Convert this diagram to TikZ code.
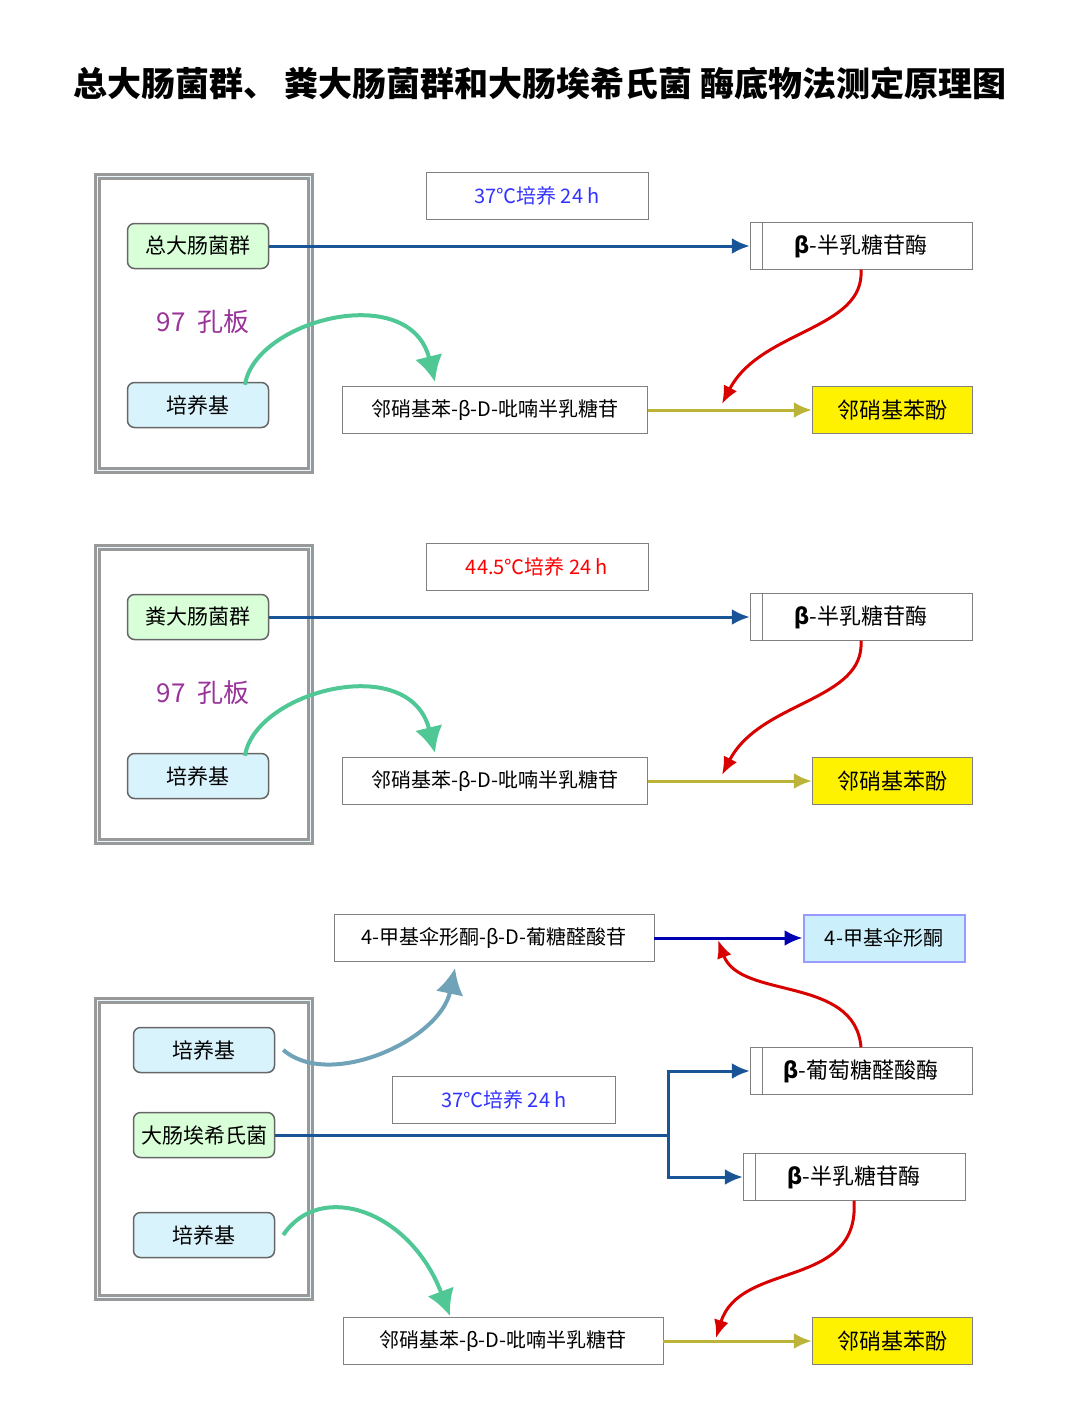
\documentclass[tikz,border=0pt]{standalone}
\usepackage{fontspec}
\setmainfont{Noto Sans CJK SC}
\usepackage{tikz}
\usetikzlibrary{positioning,arrows.meta}
\definecolor{flowblue}{RGB}{25,85,150}
\definecolor{swinggreen}{RGB}{80,200,150}
\tikzset{
  frame/.style={draw=gray!80, line width=3pt, double=cyan!10, double distance=1pt},
  tag/.style={draw=black!60, rounded corners=7pt, line width=1.5pt, minimum width=141pt, minimum height=45pt, font=\fontsize{21}{24}\selectfont},
  grn/.style={tag, fill=green!15},
  blu/.style={tag, fill=cyan!15},
  box/.style={draw=black!50, fill=white, minimum height=47pt, font=\fontsize{20}{24}\selectfont},
  ybox/.style={draw=black!50, fill=yellow, minimum width=160pt, minimum height=47pt, font=\fontsize{22}{24}\selectfont},
  flow/.style={line width=3pt, -{Latex[length=18pt,width=16pt]}},
  turn/.style={line width=3pt, red!85!black, -{Latex[length=18pt,width=15pt]}},
  swing/.style={line width=4pt, -{Latex[length=26pt,width=28pt]}}
}
\begin{document}
\begin{tikzpicture}[x=1pt,y=-1pt]
\useasboundingbox (0,0) rectangle (1080,1421);
\node[font=\fontsize{34}{38}\selectfont\bfseries] (title) at (540,83) {总大肠菌群、 粪大肠菌群和大肠埃希氏菌 酶底物法测定原理图};
% first two panels
\foreach \oy/\bug/\temp/\tc [count=\i] in {0/总大肠菌群/37℃培养 24 h/blue!80, 371/粪大肠菌群/44.5℃培养 24 h/red}{
  \draw[frame] (97,176+\oy) rectangle (310,470+\oy);
  \node[grn] (bug\i) at (198,246+\oy) {\bug};
  \node[blu] (med\i) at (198,405+\oy) {培养基};
  \node[text=violet!80, font=\fontsize{26}{28}\selectfont] (plate\i) at (203,322+\oy) {97\ \ 孔板};
  \node[box, minimum width=222pt, text=\tc] (temp\i) at (537,196+\oy) {\temp};
  \node[box, minimum width=222pt, font=\fontsize{22}{24}\selectfont] (gal\i) at (861,246+\oy) {\textbf{β}-半乳糖苷酶};
  \draw[black!50] ([xshift=12pt]gal\i.north west) -- ([xshift=12pt]gal\i.south west);
  \node[box, minimum width=305pt] (onpg\i) at (495,410+\oy) {邻硝基苯-β-D-吡喃半乳糖苷};
  \node[ybox] (onp\i) at (892,410+\oy) {邻硝基苯酚};
  \draw[flow, flowblue] (bug\i.east) -- (gal\i.west);
  \draw[flow, yellow!70!black] (onpg\i.east) -- (onp\i.west);
  \draw[turn] (gal\i.south) .. controls (865,330+\oy) and (760,330+\oy) .. (722,404+\oy);
  \draw[swing, swinggreen] (med\i.north) ++(47,3) .. controls (255,320+\oy) and (410,280+\oy) .. (435,382+\oy);
}
% third panel
\draw[frame] (97,1000) rectangle (310,1297);
\node[blu] (med3) at (204,1050) {培养基};
\node[grn] (ecoli) at (204,1135) {大肠埃希氏菌};
\node[blu] (med4) at (204,1235) {培养基};
\node[box, minimum width=320pt] (mug) at (494,938) {4-甲基伞形酮-β-D-葡糖醛酸苷};
\node[box, fill=cyan!20, draw=blue!40, line width=2pt, minimum width=161pt] (mu) at (884,938) {4-甲基伞形酮};
\node[box, minimum width=223pt, text=blue!80] (temp3) at (504,1100) {37℃培养 24 h};
\node[box, minimum width=222pt, font=\fontsize{22}{24}\selectfont] (glu) at (861,1071) {\textbf{β}-葡萄糖醛酸酶};
\draw[black!50] ([xshift=12pt]glu.north west) -- ([xshift=12pt]glu.south west);
\node[box, minimum width=222pt, font=\fontsize{22}{24}\selectfont] (gal3) at (854,1177) {\textbf{β}-半乳糖苷酶};
\draw[black!50] ([xshift=12pt]gal3.north west) -- ([xshift=12pt]gal3.south west);
\node[box, minimum width=320pt] (onpg3) at (503,1341) {邻硝基苯-β-D-吡喃半乳糖苷};
\node[ybox] (onp3) at (892,1341) {邻硝基苯酚};
\coordinate (fork) at (668,1135);
\draw[line width=3pt, flowblue] (ecoli.east) -- (fork);
\draw[flow, flowblue] (fork) |- (glu.west);
\draw[flow, flowblue] (fork) |- (gal3.west);
\draw[flow, blue!70!black] (mug.east) -- (mu.west);
\draw[flow, yellow!70!black] (onpg3.east) -- (onp3.west);
\draw[turn] (glu.north) .. controls (855,975) and (740,1000) .. (718,940);
\draw[turn] (gal3.south) .. controls (860,1290) and (740,1260) .. (716,1338);
\draw[swing, cyan!40!gray] (med3.east) ++(8,0) .. controls (330,1090) and (440,1040) .. (455,968);
\draw[swing, swinggreen] (med4.east) ++(8,0) .. controls (320,1180) and (410,1210) .. (450,1316);
\end{tikzpicture}
\end{document}
